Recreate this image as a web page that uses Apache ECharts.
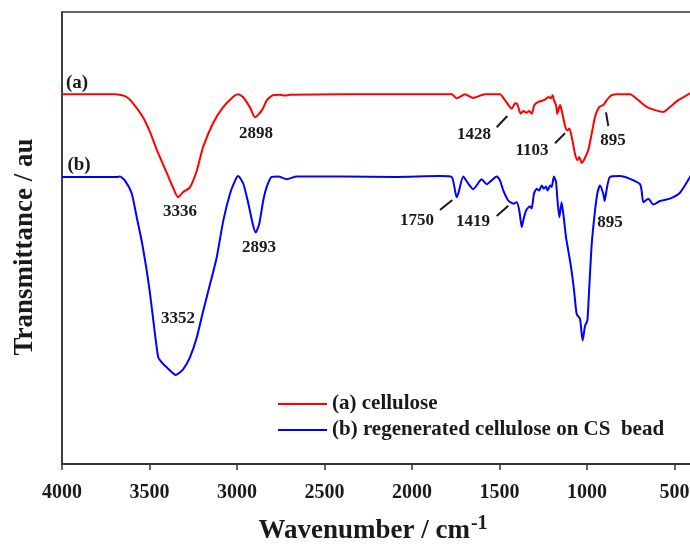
<!DOCTYPE html>
<html>
<head>
<meta charset="utf-8">
<script src="https://cdn.jsdelivr.net/npm/echarts@6/dist/echarts.min.js"></script>
<style>
  html, body { margin: 0; padding: 0; background: #fff; }
  #chart { width: 690px; height: 545px; }
</style>
</head>
<body>
<div id="chart"></div>
<script>
// x ticks (cm^-1), axis runs 4000 -> 400
const xTicks = [4000, 3500, 3000, 2500, 2000, 1500, 1000, 500];

// (a) cellulose
const waveA = [4000, 3697, 3669, 3630, 3594, 3537, 3497, 3457, 3400, 3366, 3337, 3309, 3269, 3229, 3194, 3137, 3080, 3023, 2994, 2966,
  2926, 2897, 2857, 2829, 2794, 2754, 2726, 2697, 2400, 2100, 1773, 1745, 1697, 1651, 1583, 1497, 1469, 1430, 1411, 1398,
  1379, 1364, 1345, 1330, 1316, 1301, 1278, 1240, 1221, 1207, 1196, 1189, 1177, 1170, 1154, 1145, 1126, 1113, 1101, 1087,
  1069, 1055, 1044, 1030, 1017, 993, 973, 954, 930, 907, 887, 859, 821, 754, 707, 659, 611, 564, 526, 478, 411, 400];
const transA = [81.8, 81.8, 81.7, 81.2, 79.8, 76.7, 73.4, 69.4, 64.3, 61.2, 59.0, 60.1, 61.2, 65.0, 70.1, 75.4, 78.9, 81.2, 81.8, 81.2,
  78.9, 76.7, 78.3, 80.5, 81.6, 81.7, 81.5, 81.7, 81.8, 81.8, 81.8, 80.9, 81.8, 81.0, 81.8, 81.8, 80.5, 78.6, 79.8, 79.6,
  77.5, 78.1, 77.7, 78.1, 77.5, 79.4, 80.1, 80.6, 81.2, 80.9, 81.6, 80.5, 79.4, 77.5, 79.4, 78.3, 74.9, 73.8, 74.2, 72.3,
  68.7, 67.2, 67.9, 66.6, 67.3, 69.4, 73.1, 76.8, 79.0, 79.4, 80.5, 81.6, 81.8, 81.8, 80.5, 79.0, 78.3, 77.9, 79.0, 80.5, 82.0, 82.3];

// (b) regenerated cellulose on CS bead
const waveB = [4000, 3687, 3669, 3640, 3602, 3573, 3545, 3516, 3497, 3478, 3450, 3430, 3402, 3349, 3307, 3269, 3230, 3193, 3154, 3116,
  3078, 3040, 3011, 2993, 2964, 2935, 2910, 2893, 2873, 2850, 2830, 2802, 2764, 2716, 2659, 2400, 2100, 1840, 1773, 1745,
  1735, 1707, 1678, 1650, 1602, 1573, 1516, 1497, 1478, 1450, 1421, 1402, 1387, 1373, 1360, 1345, 1326, 1316, 1303, 1287,
  1273, 1259, 1246, 1234, 1225, 1211, 1202, 1189, 1177, 1170, 1158, 1145, 1131, 1120, 1107, 1091, 1074, 1059, 1040, 1025,
  1011, 998, 987, 973, 954, 941, 926, 907, 899, 887, 869, 811, 697, 678, 650, 621, 583, 526, 469, 411, 400];
const transB = [63.5, 63.5, 63.6, 62.7, 59.9, 54.6, 49.4, 42.8, 37.7, 31.7, 23.6, 22.5, 21.4, 19.7, 21.0, 23.6, 28.0, 33.9, 39.8, 45.7,
  53.9, 59.8, 62.7, 63.7, 62.0, 57.6, 53.1, 51.2, 53.1, 58.3, 61.3, 63.5, 63.6, 63.0, 63.6, 63.6, 63.5, 63.7, 63.5, 59.0,
  59.9, 63.6, 62.0, 60.8, 63.0, 61.9, 63.6, 62.7, 60.5, 58.3, 57.6, 57.9, 56.1, 52.4, 54.6, 56.3, 57.0, 56.5, 59.8, 60.9,
  60.5, 61.6, 60.9, 61.4, 60.5, 61.6, 61.3, 63.6, 62.4, 59.0, 54.6, 57.9, 53.9, 50.2, 47.2, 43.5, 38.4, 33.2, 32.1, 27.3,
  30.6, 31.7, 39.1, 48.7, 56.1, 59.8, 61.6, 59.8, 58.2, 60.9, 63.5, 63.7, 61.9, 57.9, 58.7, 57.4, 58.2, 58.7, 60.0, 63.5, 64.3];

const serif = '"Liberation Serif", "DejaVu Serif", serif';
const ink = '#1a1a1a';

function pairs(xs, ys) {
  return xs.map((x, i) => [x, ys[i]]);
}

// peak labels and leader lines (pixel layout)
const peakLabels = [
  { text: '(a)', x: 77, y: 83, size: 19 },
  { text: '(b)', x: 79, y: 165, size: 19 },
  { text: '3336', x: 180, y: 212 },
  { text: '2898', x: 256, y: 134 },
  { text: '2893', x: 259, y: 248 },
  { text: '3352', x: 178, y: 319 },
  { text: '1428', x: 474, y: 135 },
  { text: '1103', x: 532, y: 151 },
  { text: '895', x: 613, y: 141 },
  { text: '1750', x: 417, y: 221 },
  { text: '1419', x: 473, y: 222 },
  { text: '895', x: 610, y: 223 }
];
const leaders = [
  [496.7, 127.3, 507.3, 116],
  [555, 143.3, 565, 133.3],
  [606, 112.3, 608.3, 126],
  [440, 210, 452.3, 200],
  [496.7, 216, 508.3, 205.7]
];

const chart = echarts.init(document.getElementById('chart'), null, { renderer: 'canvas' });

const graphics = [];
peakLabels.forEach((p) => {
  graphics.push({
    type: 'text',
    x: p.x,
    y: p.y,
    style: {
      text: p.text,
      fill: ink,
      font: 'bold ' + (p.size || 17) + 'px ' + serif,
      align: 'center',
      verticalAlign: 'middle'
    }
  });
});
leaders.forEach((l) => {
  graphics.push({
    type: 'line',
    shape: { x1: l[0], y1: l[1], x2: l[2], y2: l[3] },
    style: { stroke: ink, lineWidth: 2 }
  });
});
// axis titles
graphics.push({
  type: 'text',
  x: 25,
  y: 247,
  rotation: Math.PI / 2,
  style: {
    text: 'Transmittance / au',
    fill: ink,
    font: 'bold 27px ' + serif,
    align: 'center',
    verticalAlign: 'middle'
  }
});
graphics.push({
  type: 'text',
  x: 373,
  y: 531,
  style: {
    text: '{a|Wavenumber / cm}{b|-1}',
    fill: ink,
    align: 'center',
    verticalAlign: 'middle',
    rich: {
      a: { font: 'bold 27px ' + serif, fill: ink, lineHeight: 30 },
      b: { font: 'bold 20px ' + serif, fill: ink, padding: [0, 0, 14, 1] }
    }
  }
});

const option = {
  animation: false,
  backgroundColor: '#fff',
  grid: {
    left: 62,
    right: -2,
    top: 12,
    bottom: 81,
    outerBoundsMode: 'none',
    containLabel: false,
    show: true,
    borderColor: '#333',
    borderWidth: 1.5
  },
  legend: {
    orient: 'vertical',
    left: 273,
    top: 388,
    itemWidth: 49,
    itemHeight: 2,
    itemGap: 4,
    icon: 'rect',
    textStyle: {
      fontFamily: serif,
      fontWeight: 'bold',
      fontSize: 21,
      color: ink,
      lineHeight: 22
    },
    data: ['(a) cellulose', '(b) regenerated cellulose on CS  bead']
  },
  xAxis: {
    type: 'value',
    min: 400,
    max: 4000,
    inverse: true,
    axisLine: { lineStyle: { color: '#333', width: 2 } },
    axisTick: { show: true, length: 6, customValues: xTicks, lineStyle: { color: '#333', width: 1.5 } },
    axisLabel: {
      customValues: xTicks,
      formatter: (v) => String(v),
      margin: 19,
      fontFamily: serif,
      fontWeight: 'bold',
      fontSize: 20,
      color: ink
    },
    splitLine: { show: false }
  },
  yAxis: {
    type: 'value',
    min: 0,
    max: 100,
    axisLine: { show: true, lineStyle: { color: '#333', width: 1.5 } },
    axisTick: { show: false },
    axisLabel: { show: false },
    splitLine: { show: false }
  },
  series: [
    {
      name: '(a) cellulose',
      type: 'line',
      data: pairs(waveA, transA),
      showSymbol: false,
      smooth: 0.2,
      color: '#ff0000',
      lineStyle: { width: 2, color: '#ff0000' }
    },
    {
      name: '(b) regenerated cellulose on CS  bead',
      type: 'line',
      data: pairs(waveB, transB),
      showSymbol: false,
      smooth: 0.2,
      color: '#0000ff',
      lineStyle: { width: 2, color: '#0000ff' }
    }
  ],
  graphic: graphics
};

chart.setOption(option);
</script>
</body>
</html>
